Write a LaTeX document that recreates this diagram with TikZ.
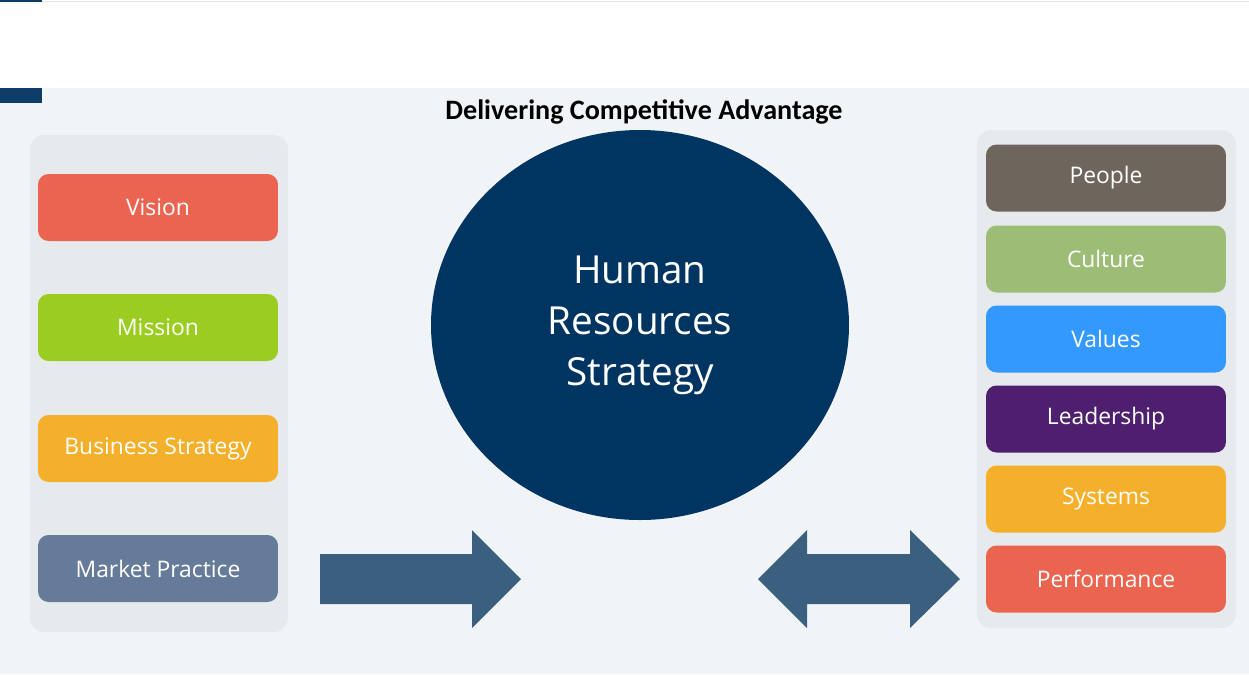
\documentclass[tikz,border=0pt]{standalone}
\usepackage{fontspec}
\setmainfont{Open Sans}
\newfontfamily\titlefont{Carlito}
\definecolor{bg}{HTML}{F1F4F7}
\definecolor{panel}{HTML}{E6EAED}
\definecolor{navy}{HTML}{003461}
\definecolor{arr}{HTML}{3A5F7F}
\definecolor{cred}{HTML}{EB6450}
\definecolor{cgreen}{HTML}{9ACD1F}
\definecolor{corange}{HTML}{F4B02A}
\definecolor{cslate}{HTML}{667B99}
\definecolor{cbrown}{HTML}{6E655C}
\definecolor{csage}{HTML}{9DBD77}
\definecolor{cblue}{HTML}{3399FF}
\definecolor{cpurple}{HTML}{4D1F6E}
\tikzset{
 item/.style={rounded corners=6pt,minimum width=4.8cm,minimum height=1.34cm,text=white,font=\fontsize{13}{15}\selectfont,inner sep=0pt},
 pan/.style={fill=panel,rounded corners=8pt},
}
\begin{document}
\begin{tikzpicture}[x=0.02cm,y=-0.02cm]
\useasboundingbox (0,0) rectangle (1249,674);
\fill[white] (0,0) rectangle (1249,88);
\fill[bg] (0,88) rectangle (1249,674);
\fill[navy!80!arr] (0,0) rectangle (42,2);
\fill[navy!80!arr] (0,88) rectangle (42,103);
\draw[gray!20] (42,1) -- (1249,1);
\node[font=\titlefont\bfseries\fontsize{16}{18}\selectfont] (title) at (644,112) {Delivering Competitive Advantage};
\fill[pan] (30,135) rectangle (288,632);
\fill[pan] (977,130) rectangle (1236,628);
\node[item,fill=cred] (vision) at (158,207.5) {Vision};
\node[item,fill=cgreen] (mission) at (158,327.5) {Mission};
\node[item,fill=corange] (business) at (158,448.5) {Business Strategy};
\node[item,fill=cslate] (market) at (158,568.5) {Market Practice};
\node[item,fill=cbrown] (people) at (1106,178) {People};
\node[item,fill=csage] (culture) at (1106,259) {Culture};
\node[item,fill=cblue] (values) at (1106,339) {Values};
\node[item,fill=cpurple] (leader) at (1106,419) {Leadership};
\node[item,fill=corange] (systems) at (1106,499) {Systems};
\node[item,fill=cred] (perf) at (1106,579) {Performance};
\fill[navy] (640,325) ellipse [x radius=209,y radius=195];
\node[text=white,align=center,font=\fontsize{22}{29}\selectfont] (hr) at (640,325) {Human\\Resources\\Strategy};
\fill[arr] (320,554) -- (472,554) -- (472,530) -- (521,579) -- (472,628) -- (472,604) -- (320,604) -- cycle;
\fill[arr] (758,579) -- (807,530) -- (807,554) -- (910,554) -- (910,530) -- (960,579) -- (910,628) -- (910,604) -- (807,604) -- (807,628) -- cycle;
\end{tikzpicture}
\end{document}
